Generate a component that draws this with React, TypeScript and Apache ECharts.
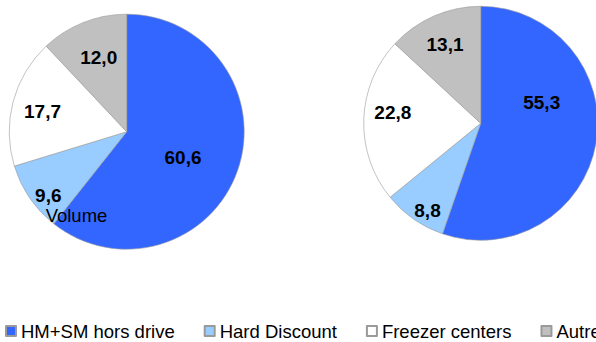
import React, { useEffect, useRef } from "react";
import * as echarts from "echarts";

const categories = ["HM+SM hors drive", "Hard Discount", "Freezer centers", "Autres"];
const volumeValues = [60.6, 9.6, 17.7, 12.0];
const valueValues = [55.3, 8.8, 22.8, 13.1];
const pieTitle = "Volume";

const colors = ["#3366FF", "#99CCFF", "#FFFFFF", "#C0C0C0"];

// label anchor positions (layout only)
const labelPos = [
  [[183, 157], [48.3, 195], [42.5, 111], [98.7, 57.8]],
  [[541.7, 102.7], [427.5, 210.3], [392.8, 112.2], [445, 44.7]],
];

const FONT = "'Liberation Sans', Arial, Helvetica, sans-serif";

export default function App() {
  const ref = useRef<HTMLDivElement>(null);
  useEffect(() => {
    if (!ref.current) return;
    const chart = echarts.init(ref.current, null, { renderer: "svg" });
    const mk = (vals: number[]) =>
      vals.map((v, i) => ({
        name: categories[i],
        value: v,
        itemStyle: { color: colors[i] },
      }));
    const seriesBase = {
      type: "pie" as const,
      startAngle: 90,
      clockwise: true,
      label: {
        show: true,
        position: "inside" as const,
        formatter: (p: any) => p.value.toFixed(1).replace(".", ","),
        fontFamily: FONT,
        fontWeight: "bold" as const,
        fontSize: 19,
        color: "#000",
      },
      labelLine: { show: false },
      itemStyle: { borderColor: "#9a9a9a", borderWidth: 0.6 },
      emphasis: { disabled: true },
      labelLayout: (params: any) => {
        const p = labelPos[params.seriesIndex][params.dataIndex];
        return { x: p[0], y: p[1], align: "center", verticalAlign: "middle" };
      },
    };
    chart.setOption({
      animation: false,
      legend: {
        data: categories,
        left: 5,
        top: 321,
        padding: 0,
        width: 900,
        orient: "horizontal",
        icon: "rect",
        itemWidth: 10,
        itemHeight: 10,
        itemGap: 29,
        textStyle: { fontFamily: FONT, fontSize: 18.5, color: "#000", lineHeight: 20 },
        selectedMode: false,
      },
      graphic: [
        {
          type: "text",
          x: 76.5,
          y: 215.5,
          style: {
            text: pieTitle,
            fontFamily: FONT,
            fontSize: 18.5,
            fill: "#000",
            textAlign: "center",
            textVerticalAlign: "middle",
          },
          z: 100,
        },
      ],
      series: [
        { ...seriesBase, center: [126.7, 131.7], radius: 117.5, data: mk(volumeValues) },
        { ...seriesBase, center: [480.7, 123.3], radius: 117, data: mk(valueValues) },
      ],
    });
    return () => chart.dispose();
  }, []);
  return (
    <div
      ref={ref}
      style={{ position: "fixed", left: 0, top: 0, width: 596, height: 342, background: "#fff" }}
    />
  );
}
